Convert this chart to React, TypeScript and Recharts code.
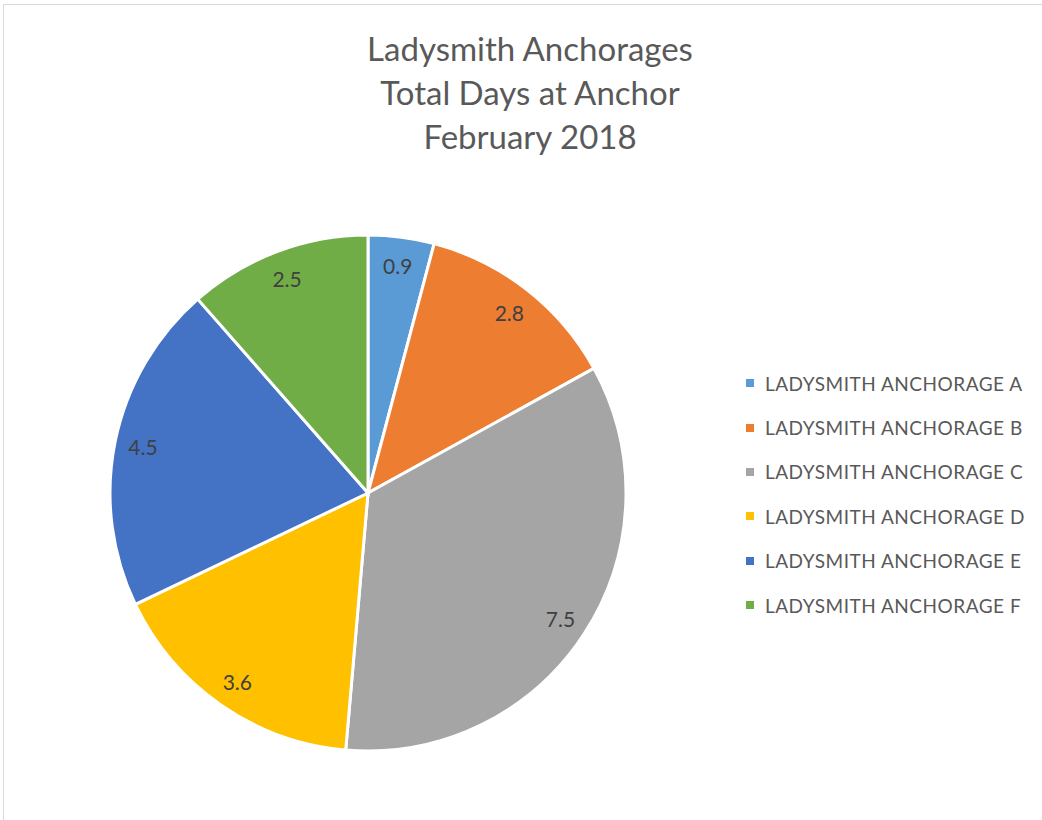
import React from "react";
import { PieChart, Pie, Cell, Legend } from "recharts";

const anchorages = [
  "LADYSMITH ANCHORAGE A",
  "LADYSMITH ANCHORAGE B",
  "LADYSMITH ANCHORAGE C",
  "LADYSMITH ANCHORAGE D",
  "LADYSMITH ANCHORAGE E",
  "LADYSMITH ANCHORAGE F",
];
const daysAtAnchor = [0.9, 2.8, 7.5, 3.6, 4.5, 2.5];
const sliceColors = ["#5B9BD5", "#ED7D31", "#A5A5A5", "#FFC000", "#4472C4", "#70AD47"];
const titleLines = ["Ladysmith Anchorages", "Total Days at Anchor", "February 2018"];

const data = anchorages.map((name, i) => ({ name, value: daysAtAnchor[i] }));

const FONT = "Lato, 'Open Sans', sans-serif";
const RAD = Math.PI / 180;

const renderLabel = (props: any) => {
  const { cx, cy, midAngle, outerRadius, value } = props;
  const r = outerRadius * 0.89;
  const x = cx + r * Math.cos(-midAngle * RAD);
  const y = cy + r * Math.sin(-midAngle * RAD);
  return (
    <text
      x={x}
      y={y}
      fill="#404040"
      fontSize={21}
      fontFamily={FONT}
      textAnchor="middle"
      dominantBaseline="central"
    >
      {value}
    </text>
  );
};

const LegendList = (props: any) => {
  const { payload } = props;
  return (
    <div style={{ fontFamily: FONT, fontSize: 19, letterSpacing: 0.5, color: "#595959" }}>
      {(payload || []).map((entry: any, i: number) => (
        <div
          key={i}
          style={{ display: "flex", alignItems: "center", height: 44.4 }}
        >
          <span
            style={{
              display: "inline-block",
              width: 8,
              height: 8,
              background: entry.color,
              marginRight: 11,
            }}
          />
          <span>{entry.value}</span>
        </div>
      ))}
    </div>
  );
};

export default function App() {
  return (
    <div
      style={{
        position: "absolute",
        left: 0,
        top: 0,
        width: 1042,
        height: 820,
        background: "#fff",
        overflow: "hidden",
      }}
    >
      <div
        style={{
          position: "absolute",
          left: 3,
          top: 4,
          width: 1100,
          height: 900,
          borderTop: "1px solid #d9d9d9",
          borderLeft: "1px solid #d9d9d9",
        }}
      />
      <div
        style={{
          position: "absolute",
          left: 330,
          top: 26,
          width: 400,
          textAlign: "center",
          fontFamily: FONT,
          fontSize: 33,
          lineHeight: "44px",
          color: "#595959",
        }}
      >
        {titleLines.map((t, i) => (
          <div key={i}>{t}</div>
        ))}
      </div>
      <div style={{ position: "absolute", left: 0, top: 0 }}>
        <PieChart width={1042} height={820} margin={{ top: 0, right: 0, bottom: 0, left: 0 }}>
          <Pie
            data={data}
            dataKey="value"
            nameKey="name"
            cx={368}
            cy={493}
            outerRadius={258}
            startAngle={90}
            endAngle={-270}
            stroke="#ffffff"
            strokeWidth={3}
            label={renderLabel}
            labelLine={false}
            isAnimationActive={false}
          >
            {data.map((d, i) => (
              <Cell key={d.name} fill={sliceColors[i]} />
            ))}
          </Pie>
          <Legend
            layout="vertical"
            content={<LegendList />}
            wrapperStyle={{ left: 746, top: 361, width: 295 }}
          />
        </PieChart>
      </div>
    </div>
  );
}
